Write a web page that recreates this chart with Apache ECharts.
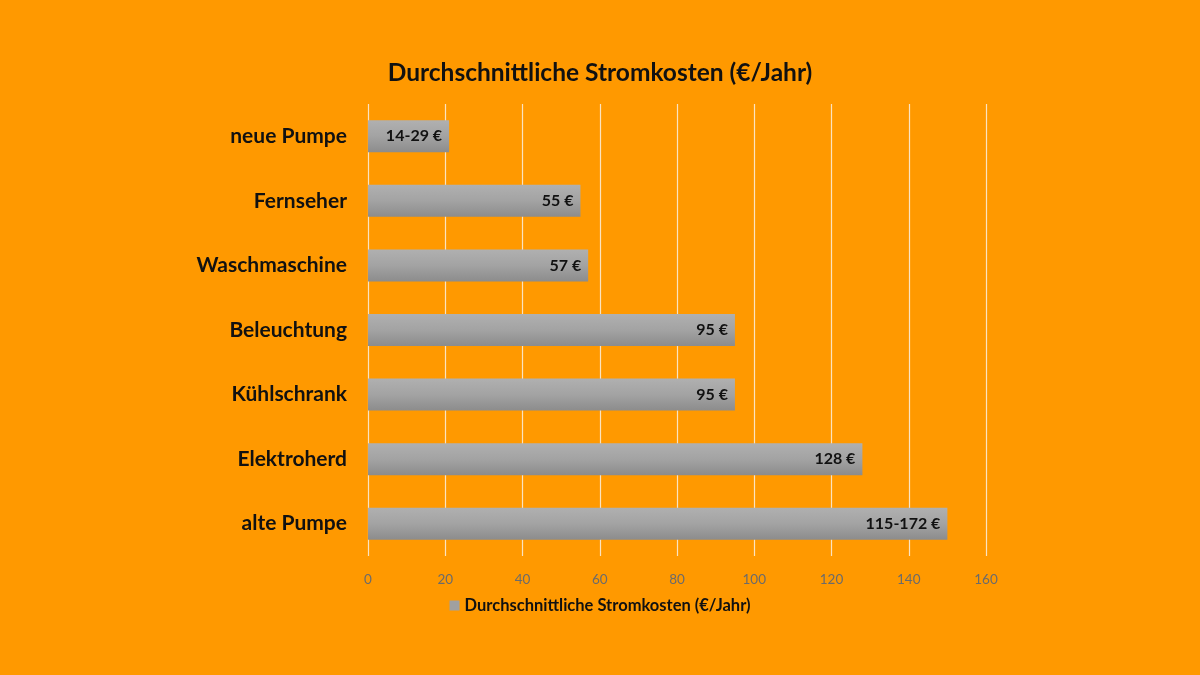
<!DOCTYPE html>
<html>
<head>
<meta charset="utf-8">
<script src="https://cdn.jsdelivr.net/npm/echarts@6/dist/echarts.min.js"></script>
<style>
  html, body { margin: 0; padding: 0; background: #ff9900; }
  #main { width: 1200px; height: 675px; }
</style>
</head>
<body>
<div id="main"></div>
<script>
// Geräte von oben nach unten
var categories = ['neue Pumpe', 'Fernseher', 'Waschmaschine', 'Beleuchtung', 'Kühlschrank', 'Elektroherd', 'alte Pumpe'];
var values = [21, 55, 57, 95, 95, 128, 150];
var valueLabels = ['14-29 €', '55 €', '57 €', '95 €', '95 €', '128 €', '115-172 €'];
var xTicks = [0, 20, 40, 60, 80, 100, 120, 140, 160];

var seriesName = 'Durchschnittliche Stromkosten (€/Jahr)';
var font = 'Lato, "Open Sans", sans-serif';

var chart = echarts.init(document.getElementById('main'));

var option = {
  backgroundColor: '#ff9900',
  animation: false,
  title: {
    text: seriesName,
    left: 'center',
    top: 56,
    textStyle: { fontFamily: font, fontSize: 24.5, fontWeight: 'bold', color: '#111' }
  },
  legend: {
    bottom: 56,
    left: 'center',
    itemWidth: 10,
    itemHeight: 10,
    itemGap: 6,
    icon: 'rect',
    data: [{ name: seriesName, itemStyle: { color: '#a0a0a0' } }],
    textStyle: { fontFamily: font, fontSize: 16.5, fontWeight: 'bold', color: '#111' }
  },
  grid: { left: 368, right: 214, top: 104, bottom: 119 },
  xAxis: {
    type: 'value',
    min: xTicks[0],
    max: xTicks[xTicks.length - 1],
    interval: 20,
    axisLine: { show: false },
    axisTick: { show: false },
    axisLabel: { color: '#6b6b6b', fontFamily: font, fontSize: 13.5, margin: 17 },
    splitLine: { show: true, lineStyle: { color: '#fbe3c0', width: 1.2 } }
  },
  yAxis: {
    type: 'category',
    inverse: true,
    data: categories,
    axisLine: { show: false },
    axisTick: { show: false },
    axisLabel: { color: '#111', fontFamily: font, fontSize: 21, fontWeight: 'bold', margin: 21 }
  },
  series: [{
    name: seriesName,
    type: 'bar',
    data: values,
    barWidth: 32,
    itemStyle: {
      color: new echarts.graphic.LinearGradient(0, 0, 0, 1, [
        { offset: 0, color: '#b0b0b0' },
        { offset: 0.5, color: '#a3a3a3' },
        { offset: 1, color: '#8c8c8c' }
      ])
    },
    label: {
      show: true,
      position: 'insideRight',
      offset: [-2, 0],
      formatter: function (p) { return valueLabels[p.dataIndex]; },
      color: '#111',
      fontFamily: font,
      fontSize: 16,
      fontWeight: 'bold'
    }
  }]
};

chart.setOption(option);
</script>
</body>
</html>
